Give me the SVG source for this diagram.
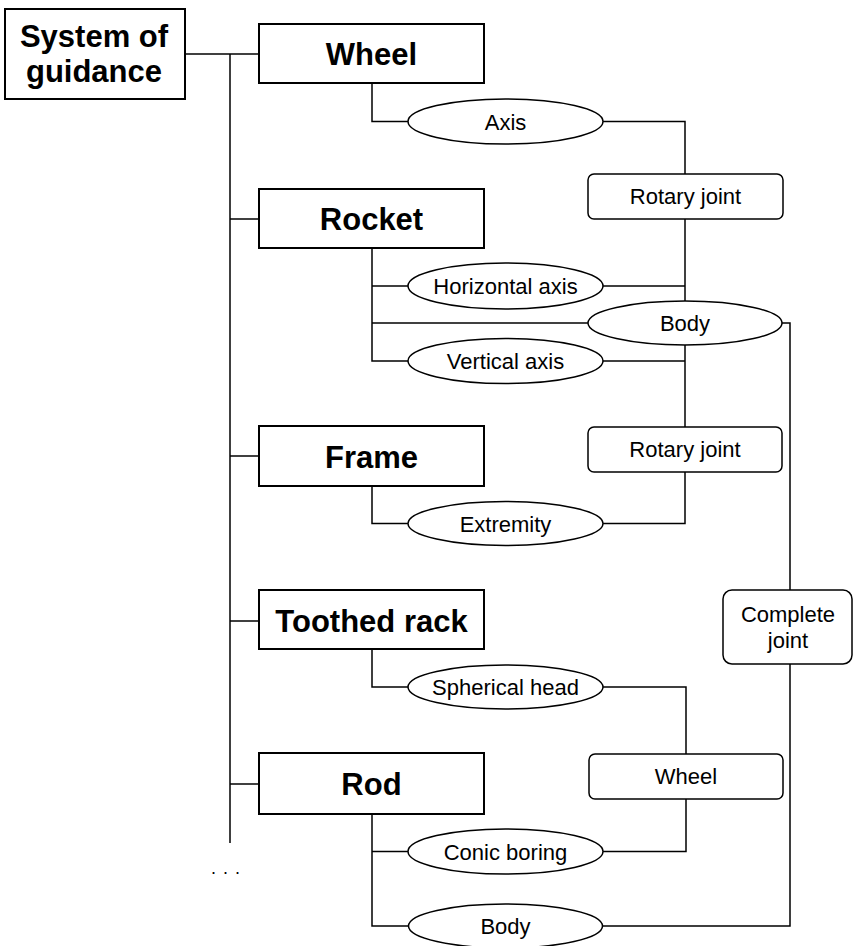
<svg xmlns="http://www.w3.org/2000/svg" width="854" height="946" viewBox="0 0 854 946">
<style>
.box{fill:#fff;stroke:#000;stroke-width:2}
.ell{fill:#fff;stroke:#000;stroke-width:1.5}
.rbox{fill:#fff;stroke:#000;stroke-width:1.5}
.ln{fill:none;stroke:#000;stroke-width:1.5}
.big{font-family:"Liberation Sans",Arial,sans-serif;font-weight:bold;font-size:31px;text-anchor:middle;fill:#000}
.sm{font-family:"Liberation Sans",Arial,sans-serif;font-size:22px;text-anchor:middle;fill:#000}
</style>
<rect width="854" height="946" fill="#fff"/>
<g id="connectors">
<polyline class="ln" points="185,54 259,54"/>
<polyline class="ln" points="230,54 230,843"/>
<polyline class="ln" points="230,219 259,219"/>
<polyline class="ln" points="230,456 259,456"/>
<polyline class="ln" points="230,621 259,621"/>
<polyline class="ln" points="230,784 259,784"/>
<polyline class="ln" points="372,83 372,121.5 408,121.5"/>
<polyline class="ln" points="603,121.5 685,121.5 685,174"/>
<polyline class="ln" points="685,219 685,301"/>
<polyline class="ln" points="603,286 685,286"/>
<polyline class="ln" points="372,248 372,361 408,361"/>
<polyline class="ln" points="372,286 408,286"/>
<polyline class="ln" points="372,323 588,323"/>
<polyline class="ln" points="603,361 685,361"/>
<polyline class="ln" points="685,345 685,427"/>
<polyline class="ln" points="685,472 685,523.5 603,523.5"/>
<polyline class="ln" points="372,486 372,523.5 408,523.5"/>
<polyline class="ln" points="782,323 790,323 790,590"/>
<polyline class="ln" points="790,664 790,926 603,926"/>
<polyline class="ln" points="372,649 372,687 408,687"/>
<polyline class="ln" points="603,687 686,687 686,754"/>
<polyline class="ln" points="686,799 686,851.5 603,851.5"/>
<polyline class="ln" points="372,814 372,926 409,926"/>
<polyline class="ln" points="372,851.5 408,851.5"/>
</g>
<g id="system">
<rect class="box" x="5" y="9" width="180" height="90"/>
<text class="big" x="94" y="47">System of</text>
<text class="big" x="94" y="82">guidance</text>
</g>
<g id="wheel">
<rect class="box" x="259" y="24" width="225" height="59"/>
<text class="big" x="371.5" y="65">Wheel</text>
</g>
<g id="rocket">
<rect class="box" x="259" y="189" width="225" height="59"/>
<text class="big" x="371.5" y="230">Rocket</text>
</g>
<g id="frame">
<rect class="box" x="259" y="426" width="225" height="60"/>
<text class="big" x="371.5" y="467.5">Frame</text>
</g>
<g id="toothed-rack">
<rect class="box" x="259" y="590" width="225" height="59"/>
<text class="big" x="371.5" y="631.5">Toothed rack</text>
</g>
<g id="rod">
<rect class="box" x="259" y="753" width="225" height="61"/>
<text class="big" x="371.5" y="795">Rod</text>
</g>
<g id="axis">
<ellipse class="ell" cx="505.5" cy="121.5" rx="97.5" ry="22.5"/>
<text class="sm" x="505.5" y="129.5">Axis</text>
</g>
<g id="rotary-joint-1">
<rect class="rbox" x="588" y="174" width="195" height="45" rx="6"/>
<text class="sm" x="685.5" y="204">Rotary joint</text>
</g>
<g id="horizontal-axis">
<ellipse class="ell" cx="505.5" cy="286" rx="97.5" ry="23"/>
<text class="sm" x="505.5" y="293.5">Horizontal axis</text>
</g>
<g id="body-1">
<ellipse class="ell" cx="685" cy="323" rx="97" ry="22"/>
<text class="sm" x="685" y="331">Body</text>
</g>
<g id="vertical-axis">
<ellipse class="ell" cx="505.5" cy="361" rx="97.5" ry="22.5"/>
<text class="sm" x="505.5" y="368.5">Vertical axis</text>
</g>
<g id="rotary-joint-2">
<rect class="rbox" x="588" y="427" width="194" height="45" rx="6"/>
<text class="sm" x="685" y="457">Rotary joint</text>
</g>
<g id="extremity">
<ellipse class="ell" cx="505.5" cy="523.5" rx="97.5" ry="22"/>
<text class="sm" x="505.5" y="531.5">Extremity</text>
</g>
<g id="complete-joint">
<rect class="rbox" x="723" y="590" width="129" height="74" rx="9"/>
<text class="sm" x="788" y="621.5">Complete</text>
<text class="sm" x="788" y="648">joint</text>
</g>
<g id="spherical-head">
<ellipse class="ell" cx="505.5" cy="687" rx="97.5" ry="22"/>
<text class="sm" x="505.5" y="695">Spherical head</text>
</g>
<g id="wheel-2">
<rect class="rbox" x="589" y="754" width="194" height="45" rx="6"/>
<text class="sm" x="686" y="784">Wheel</text>
</g>
<g id="conic-boring">
<ellipse class="ell" cx="505.5" cy="851.5" rx="97.5" ry="22.5"/>
<text class="sm" x="505.5" y="859.5">Conic boring</text>
</g>
<g id="body-2">
<ellipse class="ell" cx="505.5" cy="926" rx="97" ry="22"/>
<text class="sm" x="505.5" y="934">Body</text>
</g>
<g id="ellipsis">
<text x="229" y="874" style="font-family:'Liberation Sans',Arial,sans-serif;font-size:18px;text-anchor:middle;letter-spacing:7px" fill="#000">...</text>
</g>
</svg>
